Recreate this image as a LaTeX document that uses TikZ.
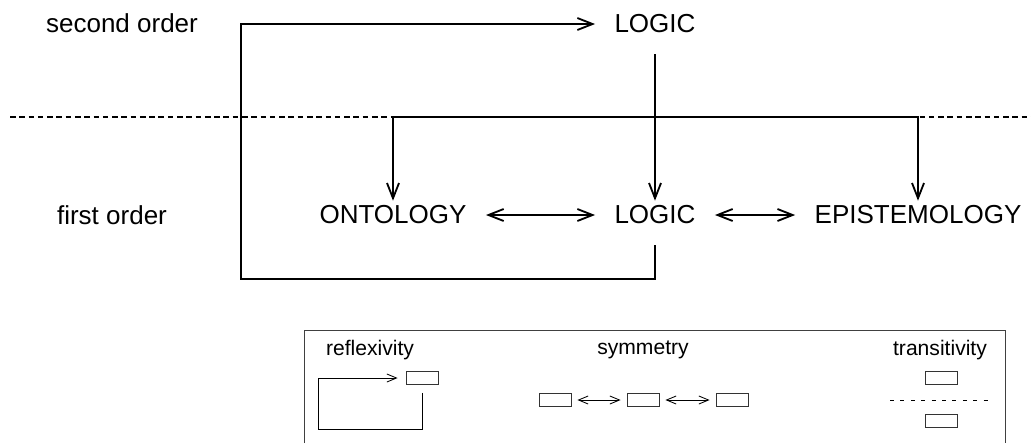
\documentclass[tikz,border=0pt]{standalone}
\usepackage{fontspec}
\setmainfont{Liberation Sans}
\usetikzlibrary{positioning}
\usetikzlibrary{arrows.meta}

\begin{document}
\begin{tikzpicture}[x=0.025cm,y=-0.025cm,
        term/.style={inner xsep=0.48cm,inner ysep=0.12cm,font=\fontsize{18.5}{22}\selectfont},
        lbl/.style={font=\fontsize{18.5}{22}\selectfont},
        key/.style={font=\fontsize{15}{18}\selectfont},
        cell/.style={rectangle,draw=black!80,line width=0.6pt,minimum width=0.8cm,minimum height=0.325cm,inner sep=0pt},
        arr/.style={line width=1.3pt,-{Straight Barb[length=0.38cm,width=0.3cm]}},
        darr/.style={line width=1.3pt,{Straight Barb[length=0.38cm,width=0.3cm]}-{Straight Barb[length=0.38cm,width=0.3cm]}},
        sarr/.style={line width=0.6pt,-{Straight Barb[length=0.24cm,width=0.2cm]}},
        sdarr/.style={line width=0.6pt,{Straight Barb[length=0.24cm,width=0.2cm]}-{Straight Barb[length=0.24cm,width=0.2cm]},shorten <=0.15cm,shorten >=0.15cm},
        split/.style={line width=1.8pt,dash pattern=on 4pt off 2.6pt},
        keysplit/.style={line width=0.6pt,dash pattern=on 2.8pt off 4.6pt},
        frame/.style={draw=black!75,line width=0.7pt}
        ]
        \useasboundingbox (0,0) rectangle (1031,443);
        % orders
        \node (so) [lbl] at (122,23) {second order};
        \node (fo) [lbl] at (112,215) {first order};
        \node (top) [term] at (655,24) {LOGIC};
        \node (ont) [term] at (393,215) {ONTOLOGY};
        \node (log) [term] at (655,215) {LOGIC};
        \node (epi) [term] at (918,215) {EPISTEMOLOGY};
        \draw[split] (10,117) -- (1031,117);
        \coordinate (fork) at (655,117);
        \coordinate (loop) at (241,279);
        \draw[arr] ([yshift=-0.4cm]log.south) |- (loop) |- (top.west);
        \draw[arr] ([yshift=-0.4cm]top.south) -- (log);
        \draw[arr] (fork) -| (ont);
        \draw[arr] (fork) -| (epi);
        \draw[darr] (ont) -- (log);
        \draw[darr] (log) -- (epi);
        % legend
        \draw[frame] (304,443) |- (1005,330) -- (1005,443);
        \node (refl) [key] at (370,350) {reflexivity};
        \node (symm) [key] at (643,350) {symmetry};
        \node (tran) [key] at (940,350) {transitivity};
        \node (r1) [cell] at (422,378) {};
        \coordinate (rloop) at (318,429);
        \draw[sarr,shorten >=0.2cm] ([yshift=-0.2cm]r1.south) |- (rloop) |- (r1.west);
        \node (s1) [cell] at (555,400) {};
        \node (s2) [cell] at (643,400) {};
        \node (s3) [cell] at (732,400) {};
        \draw[sdarr] (s1) -- (s2);
        \draw[sdarr] (s2) -- (s3);
        \node (t1) [cell] at (941,378) {};
        \node (t2) [cell] at (941,421) {};
        \draw[keysplit] (890,400) -- (992,400);
    \end{tikzpicture}
\end{document}
